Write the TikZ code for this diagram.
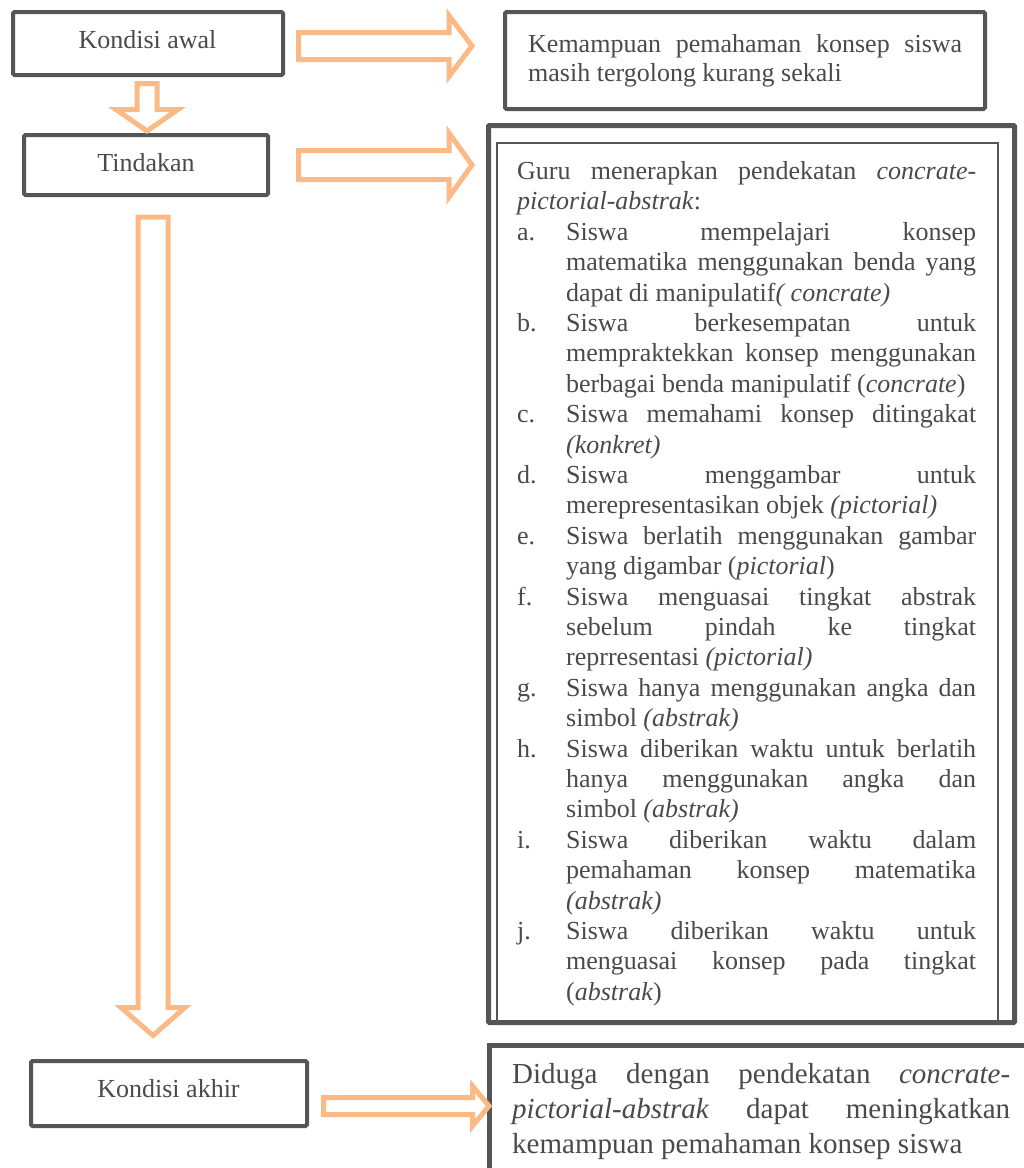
\documentclass[tikz,border=0pt]{standalone}
\usepackage{fontspec}
\setmainfont{Liberation Serif}
\definecolor{boxgray}{HTML}{555555}
\definecolor{textgray}{HTML}{4A4A4A}
\definecolor{arroworange}{HTML}{FBBA85}
\newcommand{\rarrow}[6]{\draw[barrow] (#1,{#4-#5}) -- (#2,{#4-#5}) -- (#2,{#4-#6}) -- (#3,#4) -- (#2,{#4+#6}) -- (#2,{#4+#5}) -- (#1,{#4+#5}) -- cycle;}
\newcommand{\darrow}[6]{\draw[barrow] ({#1-#5},#2) -- ({#1+#5},#2) -- ({#1+#5},#3) -- ({#1+#6},#3) -- (#1,#4) -- ({#1-#6},#3) -- ({#1-#5},#3) -- cycle;}
\newcommand{\itm}[2]{\par\noindent\hangindent=49pt\hangafter=1\makebox[49pt][l]{#1}#2\par}
\begin{document}
\begin{tikzpicture}[x=1pt,y=-1pt,
  box/.style={draw=boxgray, line width=4pt, rounded corners=1.5pt, inner sep=0pt, fill=white},
  barrow/.style={draw=arroworange, line width=5pt, fill=white, line join=miter},
  txt/.style={inner sep=0pt, text=textgray, font=\fontsize{26}{30.4}\selectfont}]
\useasboundingbox[fill=white] (0,0) rectangle (1024,1168);

% left boxes
\node[box, minimum width=270pt, minimum height=63pt] (awal) at (148,43.5) {};
\node[box, minimum width=244pt, minimum height=60pt] (tind) at (146,165) {};
\node[box, minimum width=276pt, minimum height=65pt] (akhir) at (169,1093.5) {};
\node[txt, anchor=base] (tawal) at (147.5,48) {Kondisi awal};
\node[txt, anchor=base] (ttind) at (146,171) {Tindakan};
\node[txt, anchor=base] (takhir) at (168.5,1097) {Kondisi akhir};

% right boxes
\node[box, minimum width=480pt, minimum height=97pt] (kemam) at (745,60.5) {};
\node[box, line width=5pt, rounded corners=1pt, minimum width=526pt, minimum height=897pt] (big) at (751.5,574) {};
\node[draw=boxgray, line width=1.2pt, inner sep=0pt, minimum width=501pt, minimum height=878pt] (inner) at (747.5,582) {};
\draw[draw=boxgray, line width=5pt] (1024,1045.5) -- (489.5,1045.5) -- (489.5,1168);
\coordinate (diduga) at (489.5,1045.5);

% block arrows
\rarrow{298.5}{449}{472}{46}{13.5}{30.5}
\rarrow{298.5}{449}{472}{165}{14.5}{32}
\rarrow{323.5}{472.5}{489}{1106}{8.5}{20}
\darrow{147}{83.5}{109.5}{131}{10}{31}
\darrow{153}{217}{1007.5}{1035.5}{15}{32}

% texts
\node[txt, font=\fontsize{26}{29}\selectfont, anchor=base west, text width=434pt, align=justify] (tkemam) at (528,52)
 {Kemampuan pemahaman konsep siswa\linebreak masih tergolong kurang sekali};

\node[txt, anchor=base west, text width=459pt, align=justify] (tlist) at (517,179.5) {%
Guru menerapkan pendekatan \textit{concrate-}\linebreak\textit{pictorial-abstrak}:%
\itm{a.}{Siswa mempelajari konsep\linebreak matematika menggunakan benda yang\linebreak dapat di manipulatif\textit{( concrate)}}%
\itm{b.}{Siswa berkesempatan untuk\linebreak mempraktekkan konsep menggunakan\linebreak berbagai benda manipulatif (\textit{concrate})}%
\itm{c.}{Siswa memahami konsep ditingakat\linebreak \textit{(konkret)}}%
\itm{d.}{Siswa menggambar untuk\linebreak merepresentasikan objek \textit{(pictorial)}}%
\itm{e.}{Siswa berlatih menggunakan gambar\linebreak yang digambar (\textit{pictorial})}%
\itm{f.}{Siswa menguasai tingkat abstrak\linebreak sebelum pindah ke tingkat\linebreak reprresentasi \textit{(pictorial)}}%
\itm{g.}{Siswa hanya menggunakan angka dan\linebreak simbol \textit{(abstrak)}}%
\itm{h.}{Siswa diberikan waktu untuk berlatih\linebreak hanya menggunakan angka dan\linebreak simbol \textit{(abstrak)}}%
\itm{i.}{Siswa diberikan waktu dalam\linebreak pemahaman konsep matematika\linebreak \textit{(abstrak)}}%
\itm{j.}{Siswa diberikan waktu untuk\linebreak menguasai konsep pada tingkat\linebreak (\textit{abstrak})}};

\node[txt, font=\fontsize{29}{35}\selectfont, anchor=base west, text width=498pt, align=justify] (tdiduga) at (512,1083)
 {Diduga dengan pendekatan \textit{concrate-}\linebreak\textit{pictorial-abstrak} dapat meningkatkan\linebreak kemampuan pemahaman konsep siswa};
\end{tikzpicture}
\end{document}
